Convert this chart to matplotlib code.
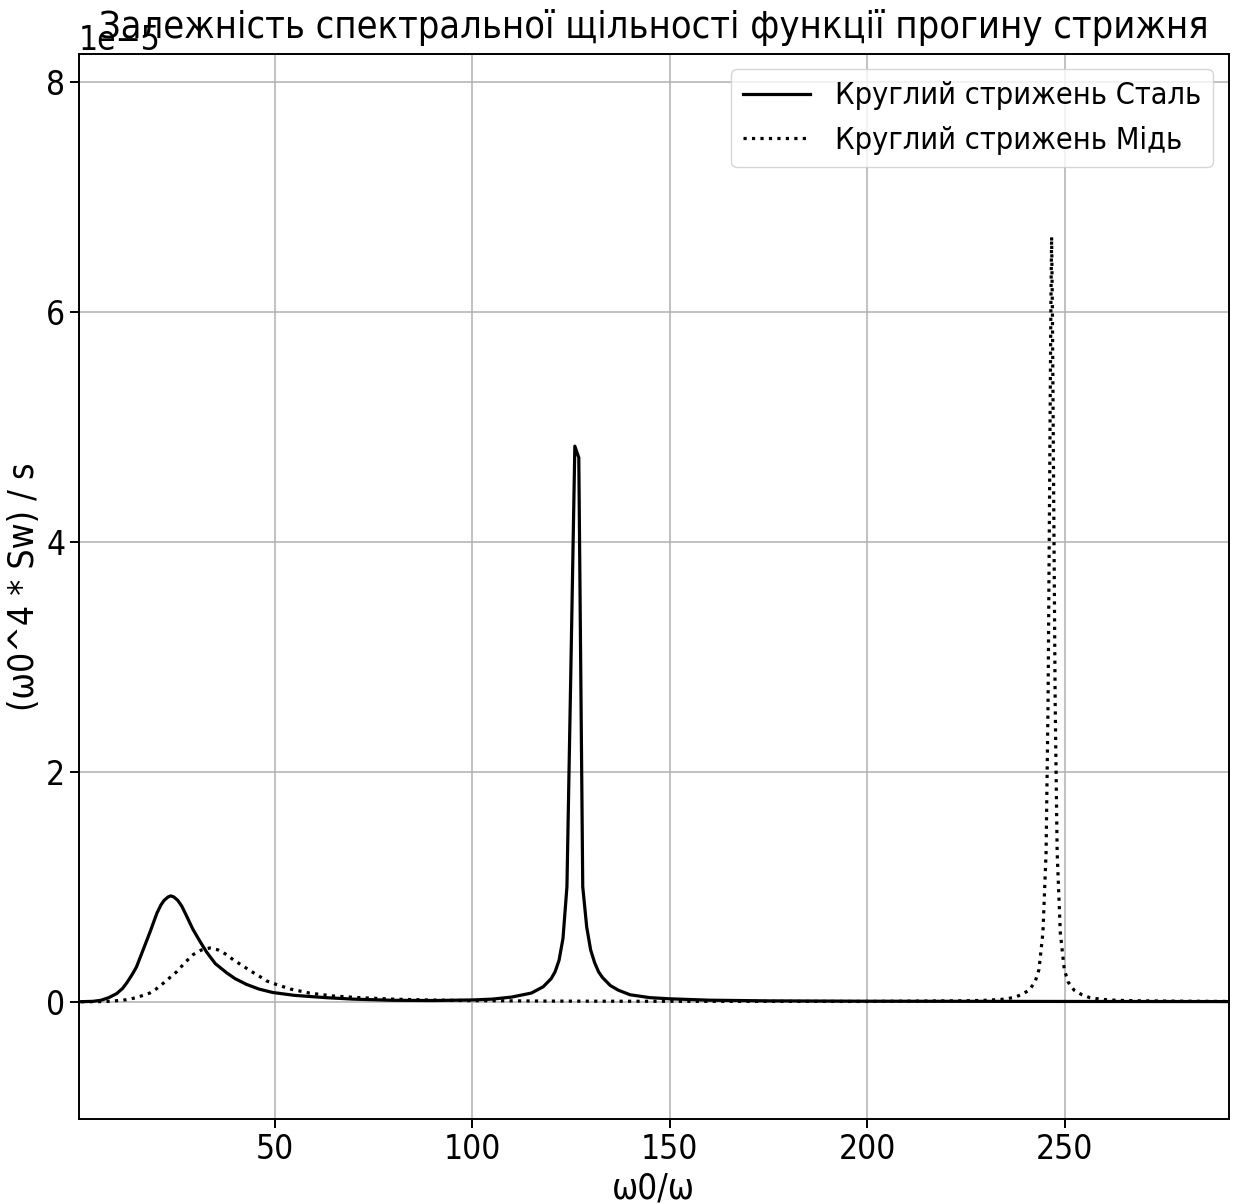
import numpy as np
from matplotlib import pyplot as plt

# Круглий стрижень Сталь (суцільна лінія)
steel_x = [1, 4, 6, 8, 10, 11.5, 12.6, 14, 15, 16.7, 18.5, 20.2, 21.2, 22, 23, 23.7, 24.5, 25.5,
           26.5, 27.5, 29.3, 31, 32.8, 35, 37.9, 40, 42.9, 46, 49.5, 55, 63, 70, 80, 90, 100, 105,
           110, 115, 118, 120, 121, 122, 123, 124, 125, 126, 127, 128, 129, 130, 131, 132, 133,
           135, 137, 140, 145, 150, 160, 175, 200, 250, 291]
steel_y = [0.0, 0.003, 0.012, 0.035, 0.07, 0.115, 0.165, 0.24, 0.3, 0.45, 0.61, 0.77, 0.84, 0.88,
           0.91, 0.92, 0.91, 0.88, 0.83, 0.76, 0.63, 0.53, 0.43, 0.33, 0.25, 0.2, 0.15, 0.11, 0.08,
           0.055, 0.035, 0.022, 0.012, 0.01, 0.015, 0.022, 0.04, 0.075, 0.13, 0.2, 0.26, 0.36,
           0.55, 1.0, 2.9, 4.83, 4.73, 1.0, 0.65, 0.45, 0.34, 0.26, 0.21, 0.14, 0.1, 0.06, 0.035,
           0.025, 0.013, 0.007, 0.004, 0.002, 0.001]

# Круглий стрижень Мідь (пунктир)
copper_x = [1, 5, 8.3, 12.5, 15, 18.4, 20, 21.8, 23.5, 25.2, 27.3, 29.4, 31.5, 33.6, 35.7, 37.8,
            39.5, 42, 44, 46.2, 48, 50.4, 54, 58.8, 64.6, 71.5, 80, 88.3, 100, 120, 150, 200, 225,
            230, 234, 237, 239, 241, 242.5, 243.5, 244.5, 245.3, 245.8, 246.2, 246.5, 246.7,
            246.9, 247.2, 247.6, 248.1, 248.9, 249.9, 250.9, 252.4, 254.4, 256.4, 259.4, 263, 268,
            280, 291]
copper_y = [0.0, 0.0, 0.003, 0.017, 0.035, 0.075, 0.11, 0.16, 0.21, 0.26, 0.34, 0.41, 0.45, 0.467,
            0.45, 0.41, 0.365, 0.31, 0.265, 0.22, 0.18, 0.15, 0.11, 0.075, 0.05, 0.035, 0.022,
            0.015, 0.009, 0.005, 0.003, 0.002, 0.008, 0.012, 0.02, 0.035, 0.06, 0.1, 0.17, 0.28,
            0.6, 1.3, 2.6, 4.5, 6.0, 6.65, 6.0, 4.5, 2.6, 1.3, 0.6, 0.28, 0.17, 0.1, 0.06, 0.035,
            0.02, 0.012, 0.008, 0.004, 0.002]

scale = 1e-5
steel_y = np.array(steel_y) * scale
copper_y = np.array(copper_y) * scale

plt.rcParams['font.family'] = ['DejaVu Sans']
plt.rcParams['font.stretch'] = 'condensed'
plt.rcParams['font.size'] = 24

fig = plt.figure(figsize=(12.36, 12.04), dpi=100)
ax = fig.add_axes([0.064, 0.0706, 0.93, 0.8846])

ax.plot(steel_x, steel_y, color='black', linestyle='-', linewidth=2.3, label='Круглий стрижень Сталь')
ax.plot(copper_x, copper_y, color='black', linestyle=':', linewidth=2.3, label='Круглий стрижень Мідь')

ax.set_xlim(0.5, 291.5)
ax.set_ylim(-1.02e-5, 8.24e-5)
ax.grid(True, color='#b0b0b0', linewidth=1.1)
for s in ax.spines.values():
    s.set_linewidth(1.4)
ax.tick_params(length=6.5, width=1.4)

# заголовок перекриває 1e-5, як на оригіналі
ax.set_title('Залежність спектральної щільності функції прогину стрижня', fontsize=27.2, y=1.0, pad=11.5)
ax.set_xlabel('ω0/ω', fontsize=25)
ax.set_ylabel('(ω0^4 * Sw) / s', fontsize=25.5)
ax.legend(loc='upper right', fontsize=22, handlelength=2.2)

plt.savefig('out.png', dpi=100)
